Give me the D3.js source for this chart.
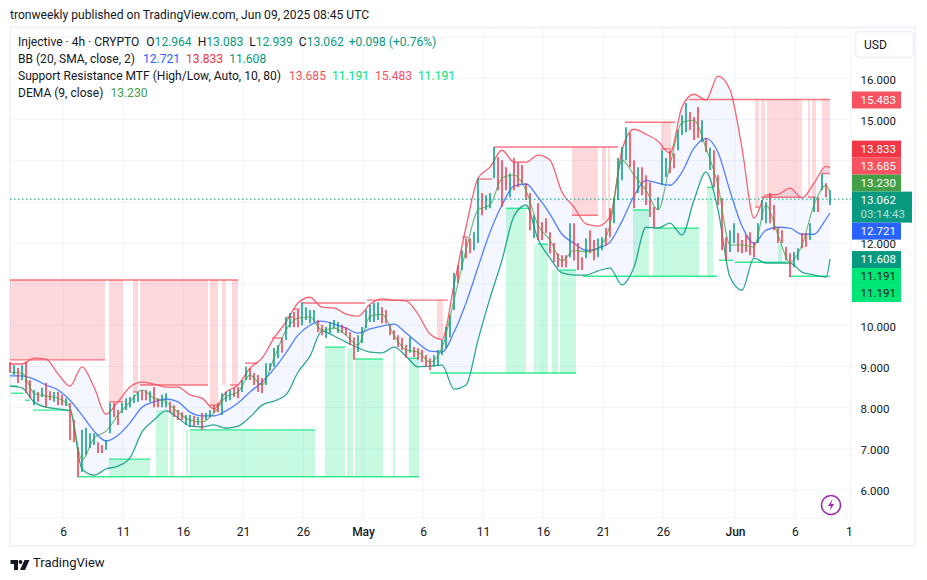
<!DOCTYPE html>
<html>
<head>
<meta charset="utf-8">
<script src="https://cdn.jsdelivr.net/npm/d3@7/dist/d3.min.js"></script>
<style>
html, body { margin: 0; padding: 0; background: #fff; }
svg { display: block; }
text { font-family: Roboto, "Noto Sans", sans-serif; }
</style>
</head>
<body>
<div id="chart"></div>
<script>
// candles, one per bar, oldest first
var candleHigh = [
	9.11,9.03,8.96,9.03,9.11,8.67,8.43,8.38,8.48,8.60,
	8.40,8.38,8.38,8.31,8.23,8.11,7.70,7.04,7.46,7.51,
	7.38,7.38,7.16,7.09,7.21,8.11,8.11,7.94,8.11,8.23,
	8.26,8.31,8.38,8.43,8.43,8.40,8.50,8.23,8.31,8.35,
	8.14,8.06,7.94,7.89,7.82,7.82,7.80,7.77,7.87,7.87,
	7.94,8.06,8.11,8.35,8.38,8.43,8.48,8.50,8.67,8.99,
	8.96,8.84,8.79,8.72,9.08,9.08,9.45,9.52,9.69,10.20,
	10.30,10.32,10.37,10.56,10.44,10.37,10.37,10.13,10.01,9.96,
	10.08,10.13,10.08,10.01,9.96,9.83,9.71,9.76,9.96,10.37,
	10.49,10.54,10.56,10.44,10.37,10.01,9.88,9.76,9.69,9.52,
	9.71,9.47,9.45,9.40,9.28,9.20,9.28,9.40,9.64,9.96,
	10.25,11.27,11.46,11.82,12.11,12.11,12.26,13.57,13.21,13.16,
	13.21,14.33,14.08,14.01,13.84,13.69,14.06,13.96,13.89,13.45,
	13.21,12.67,12.96,12.50,12.60,12.26,12.00,11.75,11.70,11.70,
	12.48,12.48,12.00,11.65,12.11,12.31,12.07,12.11,12.14,12.36,
	12.84,13.11,14.06,14.33,14.81,14.67,14.01,13.84,13.84,13.64,
	13.47,12.87,13.11,14.25,14.06,14.25,14.18,14.74,15.10,15.40,
	15.18,15.06,15.30,14.98,14.55,14.31,14.25,13.64,13.09,12.14,
	12.31,12.48,12.24,12.07,12.19,12.26,12.02,12.48,13.04,12.99,
	13.21,12.92,12.38,12.31,11.90,11.75,11.78,11.87,12.24,12.24,
	12.48,13.11,13.11,13.69,13.45,13.28
];
var candleLow = [
	8.86,8.79,8.60,8.67,8.35,8.23,8.06,8.14,8.26,8.01,
	8.18,8.14,8.06,8.06,8.04,7.21,7.16,6.32,6.44,6.85,
	7.02,7.09,6.90,6.90,6.97,7.38,7.77,7.58,7.87,7.94,
	8.01,8.11,8.14,8.18,8.18,8.14,8.01,8.01,8.01,8.01,
	7.89,7.77,7.70,7.70,7.58,7.53,7.55,7.58,7.46,7.70,
	7.77,7.87,7.89,7.82,8.14,8.18,8.26,8.23,8.38,8.67,
	8.67,8.55,8.38,8.35,8.55,8.91,8.99,9.20,9.33,9.64,
	9.95,9.95,9.95,10.00,10.13,10.05,10.08,9.83,9.76,9.69,
	9.81,9.93,9.81,9.81,9.76,9.52,9.16,9.35,9.57,9.93,
	10.08,10.08,10.13,10.05,10.05,9.76,9.64,9.47,9.40,9.21,
	9.33,9.23,9.16,9.11,8.99,8.91,8.99,9.03,9.28,9.45,
	9.71,10.37,11.02,11.34,11.63,11.75,11.82,12.00,12.67,12.80,
	12.84,13.57,13.28,12.87,13.28,13.11,13.28,13.35,13.45,13.04,
	12.31,12.12,12.07,12.07,12.24,11.75,11.53,11.41,11.41,11.41,
	11.65,11.58,11.34,11.34,11.63,11.75,11.58,11.65,11.82,11.94,
	12.14,12.48,13.04,13.52,14.01,13.84,12.84,13.21,13.16,12.92,
	12.63,12.38,12.80,13.40,13.60,13.69,13.81,14.25,14.62,14.69,
	14.74,14.50,14.55,14.45,14.20,13.77,13.35,12.92,11.82,11.58,
	11.78,12.00,11.78,11.75,11.78,11.70,11.65,12.00,12.55,12.48,
	12.48,12.31,12.00,12.00,11.58,11.17,11.41,11.58,11.87,11.90,
	12.07,12.75,12.75,13.28,13.11,12.92
];
var candleUp = [
	0,1,0,1,0,0,1,0,1,0,
	0,1,0,0,1,0,0,0,1,1,
	1,1,0,0,1,1,0,0,1,1,
	1,1,1,0,0,1,0,0,1,1,
	0,0,0,0,1,1,0,1,0,1,
	1,0,0,1,1,1,0,0,1,1,
	0,0,0,0,1,1,1,1,0,1,
	1,0,0,1,1,1,1,0,0,1,
	1,1,1,0,0,0,0,1,1,1,
	1,1,1,0,0,0,0,0,0,0,
	1,0,0,0,0,0,1,1,1,1,
	1,1,0,1,0,0,1,1,0,1,
	1,1,0,0,0,1,0,0,0,0,
	0,1,0,0,0,0,0,0,0,0,
	1,0,0,0,1,0,0,1,1,0,
	0,1,1,1,1,0,0,1,0,0,
	0,0,1,1,1,0,0,1,1,1,
	0,0,0,1,0,1,0,0,0,0,
	1,1,0,0,0,0,0,1,1,1,
	0,0,0,0,0,0,1,1,0,0,
	1,1,0,1,0,1
];

// indicator lines, read every third bar and at the last bar
var bbUpper = [
	9.06,9.06,9.20,9.18,8.82,8.52,8.99,8.50,7.84,8.14,
	8.50,8.62,8.57,8.50,8.50,8.31,8.23,7.97,8.38,8.55,
	8.96,9.20,9.69,10.08,10.54,10.68,10.44,10.42,10.27,10.22,
	10.51,10.64,10.61,10.59,10.27,9.79,9.66,10.98,12.38,13.57,
	13.84,14.25,13.96,13.96,14.13,14.01,13.23,12.87,12.46,12.41,
	12.63,14.25,14.76,14.64,14.47,14.18,15.30,15.61,15.47,16.05,
	15.72,14.30,12.60,13.16,13.18,13.33,13.09,13.45,13.86,13.83
];
var bbBasis = [
	8.77,8.77,8.69,8.55,8.43,8.18,7.82,7.43,7.19,7.33,
	7.63,8.01,8.14,8.21,8.14,7.89,7.80,7.80,7.92,8.11,
	8.38,8.62,8.94,9.33,9.76,10.00,10.10,10.03,9.93,9.81,
	9.91,9.98,10.03,9.81,9.57,9.37,9.35,9.83,10.54,11.41,
	12.26,12.92,13.38,13.43,13.11,12.70,12.21,11.99,11.82,11.87,
	12.02,12.53,13.14,13.52,13.45,13.40,13.72,14.30,14.54,14.20,
	13.26,12.41,11.99,12.31,12.38,12.36,12.21,12.21,12.58,12.72
];
var bbLower = [
	8.52,8.48,8.14,8.01,7.97,7.92,6.51,6.36,6.51,6.58,
	6.78,7.41,7.70,7.92,7.75,7.55,7.53,7.58,7.50,7.55,
	7.77,8.06,8.16,8.31,8.86,9.25,9.86,9.74,9.59,9.45,
	9.35,9.33,9.47,9.25,8.99,9.01,9.03,8.45,8.55,9.64,
	10.66,11.58,12.65,12.92,12.09,11.63,11.27,11.22,11.22,11.32,
	11.39,10.98,11.41,12.38,12.36,12.48,12.19,13.04,13.72,12.80,
	11.17,10.85,11.63,11.51,11.51,11.51,11.29,11.22,11.17,11.61
];
var demaLine = [
	8.86,8.84,8.35,8.28,8.23,8.01,6.73,7.26,7.43,7.82,
	8.14,8.43,8.23,8.14,7.89,7.70,7.65,7.87,8.26,8.38,
	8.79,8.55,9.20,9.88,10.17,10.20,9.88,9.93,9.76,9.52,
	10.22,10.27,9.76,9.40,9.35,9.11,9.45,10.61,11.82,12.80,
	12.92,13.57,13.65,13.28,12.43,12.07,11.56,11.82,11.78,11.87,
	12.43,14.01,13.65,13.28,12.80,13.89,14.93,14.98,14.30,13.40,
	11.95,11.95,11.90,12.92,12.19,11.53,11.95,12.92,13.40,13.23
];

// support / resistance: [start day, end day, top price, bottom price], day 0 = Apr 1
var resistZones = [
	[0.58,8.5,11.1,9.16],[8.83,10,11.1,8.14],[10.83,11.25,11.1,8.38],[11.42,17.08,11.1,8.55],
	[17.25,17.92,11.1,8.06],[18.25,18.58,11.1,8.55],[19.08,19.58,11.1,8.55],[36.17,36.67,10.61,9.69],
	[47.42,49.58,14.33,12.67],[49.92,50.25,14.33,12.55],[50.42,50.58,14.33,12.55],[54.83,55.67,14.93,14.28],
	[62.67,63,15.483,12.87],[63.17,63.5,15.483,13.11],[63.67,66.58,15.483,13.11],[67.08,67.25,15.483,13.11],
	[67.42,67.75,15.483,13.11],[68.25,68.92,15.483,13.685]
];
var supportZones = [
	[8.83,12.25,6.75,6.32],[12.75,13.75,7.94,6.32],[13.92,14.25,7.94,6.32],[15.25,15.42,7.46,6.32],
	[15.58,26,7.46,6.32],[26.83,28.5,9.47,6.32],[28.67,29.17,9.45,6.32],[29.33,31.67,9.18,6.32],
	[32.5,32.67,9.40,6.32],[33.83,34.67,9.20,6.32],[41.92,43.58,12.84,8.84],[44.25,44.5,11.97,8.84],
	[44.58,45.42,11.97,8.84],[45.75,46.25,11.34,8.84],[46.42,47.75,11.34,8.84],[52.5,53.83,12.80,11.19],
	[54.17,58,12.36,11.19],[58.67,59.17,13.35,11.19],[64.58,64.92,11.97,11.53]
];
// [start day, end day, price]
var resistLevels = [
	[0.58,19.58,11.1],[0.58,8.5,9.16],[8.83,10,8.14],[10.83,11.25,8.38],[11.42,17.08,8.55],[17.25,17.92,8.06],
	[18.92,19.58,8.55],[20.17,21.25,9.08],[22.42,23.25,9.69],[23.67,24.17,10.20],[24.17,24.75,10.39],
	[24.92,30.17,10.54],[30.33,37.08,10.61],[38.25,38.75,12.14],[39.67,40.75,13.55],[40.92,51.25,14.33],
	[47.42,49.58,12.67],[51.83,56,14.93],[54.83,55.67,14.28],[57.17,68.92,15.483],[62.67,63,12.87],
	[63.17,66.58,13.11],[67.08,67.75,13.11],[68.25,68.92,13.685]
];
var supportLevels = [
	[0.58,1.25,8.52],[0.67,1.67,8.35],[1.83,2.25,8.18],[2.5,5.42,7.94],[6.17,34.67,6.32],[8.83,12.25,6.75],
	[15.58,26,7.46],[26.83,28.5,9.47],[29.33,31.67,9.18],[33.83,34.67,9.20],[35.58,47.75,8.84],[41.92,43.92,12.84],
	[44.58,45.42,11.97],[46.42,47.75,11.34],[48.33,59.5,11.19],[52.5,53.83,12.80],[54.17,58,12.36],
	[58.67,59.17,13.35],[59.67,60.83,11.58],[61,65.33,11.53],[65.5,68.92,11.19]
];

// axes
var priceGrid = [6,7,8,9,10,11,12,13,14,15,16,17];
var priceTicks = [6,7,8,9,10,12,15,16];
var timeDays = [5,10,15,20,25,30,35,40,45,50,55,61,66,70.5];
var timeLabels = ["6","11","16","21","26","May","6","11","16","21","26","Jun","6","1"];
var timeBold = ["May","Jun"];

var lastClose = 13.062;
var countdown = "03:14:43";
var upperTags = [
	{ v: 13.833, c: "#f23645" },
	{ v: 13.685, c: "#f7525f" },
	{ v: 13.230, c: "#43a047" },
	{ v: 13.062, c: "#089981", sub: countdown },
	{ v: 12.721, c: "#2962ff" }
];
var lowerTags = [
	{ v: 11.608, c: "#089981" },
	{ v: 11.191, c: "#00e676", dark: true },
	{ v: 11.191, c: "#00e676", dark: true }
];

var INK = "#131722", TEAL = "#089981", RED = "#f23645", BLUE = "#2962ff", SRRED = "#f7525f", SRGREEN = "#00e676", DEMA = "#43a047";
var legendRows = [
	[["Injective · 4h · CRYPTO",INK,0],["O",INK,7],["12.964",TEAL,0],["H",INK,6],["13.083",TEAL,0],["L",INK,6],["12.939",TEAL,0],["C",INK,6],["13.062",TEAL,0],["+0.098",TEAL,5],["(+0.76%)",TEAL,3]],
	[["BB (20, SMA, close, 2)",INK,0],["12.721",BLUE,8],["13.833",RED,6],["11.608",TEAL,6]],
	[["Support Resistance MTF (High/Low, Auto, 10, 80)",INK,0],["13.685",SRRED,8],["11.191",SRGREEN,6],["15.483",SRRED,6],["11.191",SRGREEN,6]],
	[["DEMA (9, close)",INK,0],["13.230",DEMA,7]]
];

var width = 927, height = 580;
var plot = { left: 10, right: 851, top: 28, bottom: 518 };

var svg = d3.select("#chart").append("svg").attr("width", width).attr("height", height);

var x = d3.scaleLinear().domain([0.583, 70.667]).range([plot.left, plot.right]);
var y = d3.scaleLinear().domain([6, 17]).range([490, 37]);

// bars are evenly spaced in time
var barDays = d3.range(candleHigh.length).map(function(i) { return 0.583 + i / 3; });
var sampleBars = d3.range(0, candleHigh.length - 1, 3).concat([candleHigh.length - 1]);

// published line
svg.append("text").attr("x", 10).attr("y", 19).attr("font-size", 12.1).attr("fill", INK)
	.text("tronweekly published on TradingView.com, Jun 09, 2025 08:45 UTC");

// frame
svg.append("rect").attr("x", 10).attr("y", 27.5).attr("width", 905).attr("height", 518.5)
	.attr("fill", "#fff").attr("stroke", "#f0f3fa").attr("stroke-width", 2);

// grid
svg.append("g").selectAll("line").data(priceGrid).join("line")
	.attr("x1", plot.left).attr("x2", plot.right)
	.attr("y1", function(d) { return y(d); }).attr("y2", function(d) { return y(d); })
	.attr("stroke", "#f0f3fa");
svg.append("g").selectAll("line").data(timeDays.slice(0, -1)).join("line")
	.attr("x1", function(d) { return x(d); }).attr("x2", function(d) { return x(d); })
	.attr("y1", plot.top).attr("y2", plot.bottom)
	.attr("stroke", "#f0f3fa");
svg.append("line").attr("x1", plot.right).attr("x2", plot.right).attr("y1", plot.top).attr("y2", 546).attr("stroke", "#f0f3fa");
svg.append("line").attr("x1", plot.left).attr("x2", plot.right).attr("y1", plot.bottom).attr("y2", plot.bottom).attr("stroke", "#f0f3fa");

// zones
function drawZones(rows, color) {
	svg.append("g").selectAll("rect").data(rows).join("rect")
		.attr("x", function(d) { return x(d[0]); })
		.attr("width", function(d) { return x(d[1]) - x(d[0]); })
		.attr("y", function(d) { return y(d[2]); })
		.attr("height", function(d) { return y(d[3]) - y(d[2]); })
		.attr("fill", color);
}
drawZones(resistZones, "rgba(247,82,95,0.22)");
drawZones(supportZones, "rgba(0,230,118,0.22)");

// band fill
var bandArea = d3.area().curve(d3.curveMonotoneX)
	.x(function(i) { return x(barDays[sampleBars[i]]); })
	.y0(function(i) { return y(bbLower[i]); })
	.y1(function(i) { return y(bbUpper[i]); });
svg.append("path").datum(d3.range(sampleBars.length))
	.attr("d", bandArea).attr("fill", "rgba(41,98,255,0.05)");

// levels
function drawLevels(rows, color) {
	svg.append("g").selectAll("line").data(rows).join("line")
		.attr("x1", function(d) { return x(d[0]); }).attr("x2", function(d) { return x(d[1]); })
		.attr("y1", function(d) { return y(d[2]); }).attr("y2", function(d) { return y(d[2]); })
		.attr("stroke", color).attr("stroke-width", 1.4).attr("stroke-opacity", 0.8);
}
drawLevels(resistLevels, SRRED);
drawLevels(supportLevels, SRGREEN);

// indicator lines
function drawLine(values, color, opacity, weight) {
	var line = d3.line().curve(d3.curveMonotoneX)
		.x(function(v, i) { return x(barDays[sampleBars[i]]); })
		.y(function(v) { return y(v); });
	svg.append("path").datum(values).attr("d", line)
		.attr("fill", "none").attr("stroke", color).attr("stroke-width", weight).attr("stroke-opacity", opacity);
}
drawLine(bbUpper, SRRED, 0.9, 1.3);
drawLine(bbLower, TEAL, 0.85, 1.3);
drawLine(bbBasis, BLUE, 0.8, 1.3);

// candles
svg.append("g").selectAll("line").data(barDays).join("line")
	.attr("x1", function(d) { return x(d); }).attr("x2", function(d) { return x(d); })
	.attr("y1", function(d, i) { return y(candleHigh[i]); })
	.attr("y2", function(d, i) { return y(candleLow[i]); })
	.attr("stroke", function(d, i) { return candleUp[i] ? TEAL : RED; })
	.attr("stroke-width", 1.5);

drawLine(demaLine, DEMA, 0.75, 1.1);

// last price line
svg.append("line").attr("x1", plot.left).attr("x2", plot.right)
	.attr("y1", y(lastClose)).attr("y2", y(lastClose))
	.attr("stroke", TEAL).attr("stroke-dasharray", "1.5 2.5");

// price axis
var priceAxis = d3.axisRight(y).tickValues(priceTicks).tickSize(0).tickPadding(9.5).tickFormat(d3.format(".3f"));
var priceG = svg.append("g").attr("transform", "translate(" + plot.right + ",0)").call(priceAxis);
priceG.select(".domain").remove();
priceG.selectAll("text").attr("font-size", 11.5).attr("dy", "0.42em").attr("font-family", "Roboto").attr("fill", INK);

// time axis
var timeAxis = d3.axisBottom(x).tickValues(timeDays).tickSize(0).tickPadding(9)
	.tickFormat(function(d, i) { return timeLabels[i]; });
var timeG = svg.append("g").attr("transform", "translate(0," + plot.bottom + ")").call(timeAxis);
timeG.select(".domain").remove();
timeG.selectAll("text").attr("font-size", 12).attr("font-family", "Roboto").attr("fill", INK)
	.attr("font-weight", function(d, i) { return timeBold.indexOf(timeLabels[i]) >= 0 ? 500 : 400; });

// price tags
function drawTag(tag, top, h) {
	var w = tag.sub ? 60 : 49;
	svg.append("rect").attr("x", plot.right + 1).attr("y", top).attr("width", w).attr("height", h).attr("fill", tag.c);
	var ink = tag.dark ? INK : "#fff";
	svg.append("text").attr("x", plot.right + 9.5).attr("y", top + 12.4).attr("font-size", 11.5).attr("fill", ink).text(tag.v.toFixed(3));
	if (tag.sub) {
		svg.append("text").attr("x", plot.right + 9.5).attr("y", top + 26.5).attr("font-size", 11.5).attr("fill", "rgba(255,255,255,0.7)").text(tag.sub);
	}
}
function tagHeight(tag) { return tag.sub ? 31 : 17; }
function stackTags(tags, top) {
	tags.forEach(function(tag) {
		drawTag(tag, top, tagHeight(tag));
		top += tagHeight(tag);
	});
}
drawTag({ v: 15.483, c: SRRED }, y(15.483) - 8, 17);
stackTags(upperTags, d3.mean(upperTags, function(t) { return y(t.v); }) - d3.sum(upperTags, tagHeight) / 2 + 1);
stackTags(lowerTags, y(lowerTags[0].v) - 8);

// currency button
svg.append("rect").attr("x", 855.5).attr("y", 31.5).attr("width", 58).attr("height", 26).attr("rx", 4)
	.attr("fill", "#fff").attr("stroke", "#f0f3fa").attr("stroke-width", 2);
svg.append("text").attr("x", 864).attr("y", 49).attr("font-size", 12).attr("fill", INK).text("USD");

// legend
var legend = svg.append("g");
legendRows.forEach(function(row, r) {
	var t = legend.append("text").attr("x", 18).attr("y", 46 + r * 17).attr("font-size", 12.05);
	row.forEach(function(s) {
		t.append("tspan").attr("dx", s[2]).attr("fill", s[1]).text(s[0]);
	});
});

// bolt badge
var bolt = svg.append("g").attr("transform", "translate(831,505)");
bolt.append("circle").attr("r", 9.5).attr("fill", "#fff").attr("stroke", "#9c27b0").attr("stroke-width", 1.6);
bolt.append("path").attr("d", "M1.5,-6 L-3,1 L0,1 L-1.5,6 L3,-1 L0,-1 Z").attr("fill", "#9c27b0");

// logo
var logo = svg.append("g").attr("fill", INK);
logo.append("path").attr("d", "M10.5,560 H18 V570 H14 V564 H10.5 Z");
logo.append("circle").attr("cx", 20.5).attr("cy", 562).attr("r", 1.9);
logo.append("path").attr("d", "M24.5,560 H29.5 L25,570 H20 Z");
svg.append("text").attr("x", 33).attr("y", 567).attr("font-size", 13).attr("fill", INK).text("TradingView");
</script>
</body>
</html>
